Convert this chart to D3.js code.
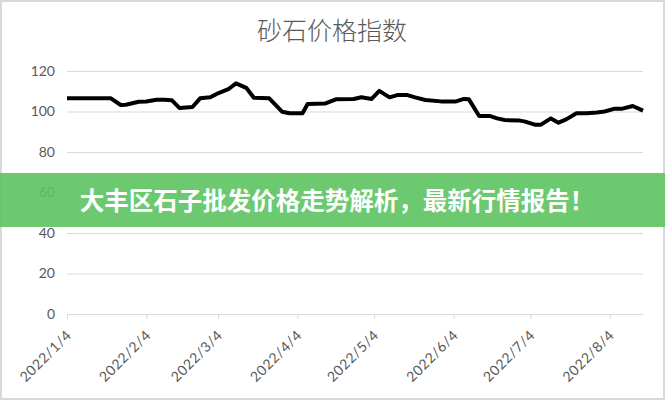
<!DOCTYPE html>
<html><head><meta charset="utf-8">
<script src="https://cdn.jsdelivr.net/npm/d3@7"></script>
<style>
html,body{margin:0;padding:0;background:#fff;}
svg{display:block;}
</style></head>
<body>
<svg id="c" width="665" height="400"></svg>
<script>
const title = "砂石价格指数";
const bannerText = "大丰区石子批发价格走势解析，最新行情报告！";
const dates = ["2022-01-04","2022-01-21","2022-01-25","2022-01-27","2022-02-01","2022-02-04","2022-02-08","2022-02-11","2022-02-14","2022-02-17","2022-02-22","2022-02-25","2022-03-01","2022-03-04","2022-03-08","2022-03-11","2022-03-15","2022-03-18","2022-03-24","2022-03-29","2022-04-01","2022-04-06","2022-04-08","2022-04-15","2022-04-19","2022-04-26","2022-04-29","2022-05-03","2022-05-06","2022-05-10","2022-05-13","2022-05-17","2022-05-20","2022-05-24","2022-05-30","2022-06-05","2022-06-08","2022-06-10","2022-06-14","2022-06-18","2022-06-21","2022-06-24","2022-06-30","2022-07-02","2022-07-06","2022-07-08","2022-07-12","2022-07-15","2022-07-18","2022-07-22","2022-07-26","2022-07-30","2022-08-02","2022-08-06","2022-08-09","2022-08-13","2022-08-17"];
const values = [106.6,106.6,103.2,103.3,104.8,104.9,105.8,105.8,105.5,101.7,102.2,106.5,107,109,111,113.9,111.7,106.8,106.5,99.9,99.1,99.1,103.7,104,106,106.2,107,106.2,110.2,107,108.1,108.1,107,105.7,105,105,106.2,106,97.8,97.8,96.6,95.8,95.5,95,93.4,93.4,96.6,94.5,96.1,99.1,99.1,99.5,100,101.4,101.4,102.7,100.4];
const yTicks = [0,20,40,60,80,100,120];
const xTickDates = ["2022-01-04","2022-02-04","2022-03-04","2022-04-04","2022-05-04","2022-06-04","2022-07-04","2022-08-04"];
const xTickLabels = ["2022/1/4","2022/2/4","2022/3/4","2022/4/4","2022/5/4","2022/6/4","2022/7/4","2022/8/4"];

(function(){
const parse = d3.utcParse("%Y-%m-%d");
const data = dates.map((d,i)=>({d:parse(d), v:values[i]}));
const svg = d3.select("#c");
const W=665,H=400;
const mL=67,mR=643,mT=71,mB=314;

svg.append("rect").attr("x",1).attr("y",1).attr("width",W-2).attr("height",H-2)
  .attr("fill","#fff").attr("stroke","#d9d9d9").attr("stroke-width",2);

const x = d3.scaleUtc().domain([parse("2022-01-04"), parse("2022-08-17")]).range([mL,mR]);
const y = d3.scaleLinear().domain([0,120]).range([mB,mT]);

svg.append("text").attr("x",332).attr("y",40).attr("text-anchor","middle")
  .attr("font-family","'Noto Sans CJK SC'").attr("font-weight",300).attr("font-size",25)
  .attr("fill","#595959").text(title);

const yAxis = d3.axisLeft(y).tickValues(yTicks).tickSize(-(mR-mL)).tickPadding(12).tickFormat(d3.format("d"));
const gy = svg.append("g").attr("transform",`translate(${mL},0)`).call(yAxis);
gy.select(".domain").remove();
gy.selectAll(".tick line").attr("stroke","#d9d9d9").attr("stroke-width",1);
gy.selectAll(".tick text").attr("font-family","Lato, 'Open Sans', sans-serif").attr("font-size",14).attr("fill","#595959");

const xAxis = d3.axisBottom(x).tickValues(xTickDates.map(parse)).tickSize(5).tickFormat((d,i)=>xTickLabels[i]);
const gx = svg.append("g").attr("transform",`translate(0,${mB})`).call(xAxis);
gx.select(".domain").attr("stroke","#d9d9d9").attr("d",`M${mL},0.5H${mR}`);
gx.selectAll(".tick line").attr("stroke","#d9d9d9");
gx.selectAll(".tick text").attr("font-family","Lato, 'Open Sans', sans-serif").attr("font-size",14).attr("fill","#595959")
  .attr("text-anchor","end").attr("dy",0).attr("y",0).attr("letter-spacing",0.6)
  .attr("transform","translate(5,22) rotate(-45)");

const line = d3.line().x(d=>x(d.d)).y(d=>y(d.v));
svg.append("path").datum(data).attr("d",line).attr("fill","none").attr("stroke","#000")
  .attr("stroke-width",4).attr("stroke-linejoin","round");

svg.append("rect").attr("x",0).attr("y",173).attr("width",W).attr("height",54)
  .attr("fill","rgb(92,195,96)").attr("fill-opacity",0.9);
svg.append("text").attr("x",337).attr("y",210).attr("text-anchor","middle")
  .attr("font-family","'Noto Sans CJK SC'").attr("font-weight",700).attr("font-size",24.5)
  .attr("fill","#fff").text(bannerText);
})();
</script>
</body></html>
